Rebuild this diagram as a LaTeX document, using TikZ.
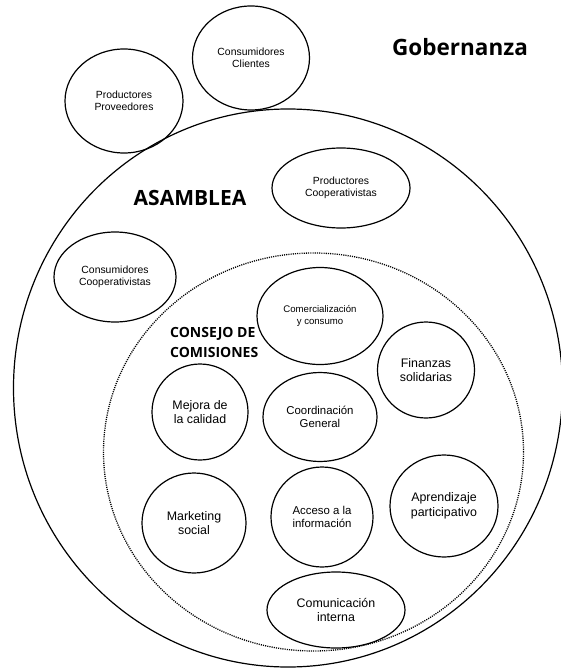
\documentclass[tikz,border=0pt]{standalone}
\usepackage{fontspec}
\setmainfont{Liberation Sans}
\newfontfamily\headfont{Open Sans}
\usetikzlibrary{shapes}
\tikzstyle{circulo}=[ellipse,draw,line width=1.2pt,inner sep=0pt,align=center]
\tikzstyle{chico}=[circulo,font=\fontsize{10.4}{12.3}\selectfont]
\tikzstyle{medio}=[circulo,font=\fontsize{11.4}{13.5}\selectfont]
\tikzstyle{grande}=[circulo,font=\fontsize{12.4}{14.5}\selectfont]
\tikzstyle{titulo}=[inner sep=0pt,align=left]

\begin{document}
\begin{tikzpicture}[x=1pt,y=-1pt]
                    \useasboundingbox (0,0) rectangle (561,668);

                    % asamblea y consejo
                    \node[circulo,minimum width=549pt,minimum height=558pt] (asamblea) at (288,388) {};
                    \node[ellipse,draw,line width=1.3pt,dash pattern=on 1.1pt off 1.1pt,minimum width=420pt,minimum height=398pt] (consejo) at (313.5,452) {};

                    % fuera de la asamblea
                    \node[chico,minimum width=117pt,minimum height=104pt] (clientes) at (251,58) {Consumidores\\Clientes};
                    \node[chico,minimum width=118pt,minimum height=104pt] (proveedores) at (124,101) {Productores\\Proveedores};

                    % socios
                    \node[chico,minimum width=138pt,minimum height=80pt] (prodcoop) at (341,188) {Productores\\Cooperativistas};
                    \node[chico,minimum width=122pt,minimum height=90pt] (conscoop) at (115,277) {Consumidores\\Cooperativistas};

                    % comisiones
                    \node[chico,font=\fontsize{9.6}{11.6}\selectfont,minimum width=126pt,minimum height=97pt] (comercial) at (320,316) {Comercialización\\y consumo};
                    \node[grande,minimum width=97pt,minimum height=96pt] (finanzas) at (426,370) {Finanzas\\solidarias};
                    \node[grande,minimum width=96pt,minimum height=96pt] (mejora) at (200,412) {Mejora de\\la calidad};
                    \node[medio,minimum width=114pt,minimum height=89pt] (coord) at (320,417) {Coordinación\\General};
                    \node[grande,minimum width=104pt,minimum height=100pt] (marketing) at (194,523) {Marketing\\social};
                    \node[medio,minimum width=102pt,minimum height=100pt] (acceso) at (322,517) {Acceso a la\\información};
                    \node[grande,minimum width=108pt,minimum height=102pt] (aprendizaje) at (444,506) {Aprendizaje\\participativo};
                    \node[grande,minimum width=138pt,minimum height=76pt] (comunicacion) at (336,610) {Comunicación\\interna};

                    % titulos
                    \node[titulo,font=\headfont\bfseries\fontsize{22.5}{26}\selectfont] (gobernanza) at (460,47) {Gobernanza};
                    \node[titulo,font=\headfont\bfseries\fontsize{21}{25}\selectfont] (asambleatxt) at (190,198) {ASAMBLEA};
                    \node[titulo,anchor=west,font=\headfont\bfseries\fontsize{14}{20}\selectfont] (consejotxt) at (170,342) {CONSEJO DE\\COMISIONES};
                \end{tikzpicture}
\end{document}
